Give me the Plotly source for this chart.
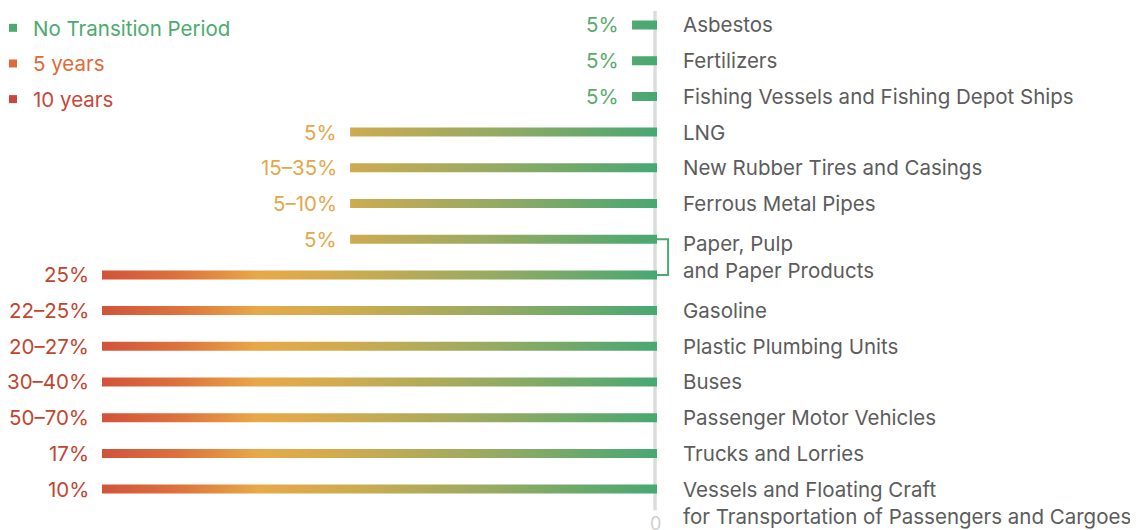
import plotly.graph_objects as go

# one entry per bar, top to bottom
products = [
    "Asbestos",
    "Fertilizers",
    "Fishing Vessels and Fishing Depot Ships",
    "LNG",
    "New Rubber Tires and Casings",
    "Ferrous Metal Pipes",
    "Paper, Pulp<br>and Paper Products",
    "Paper, Pulp<br>and Paper Products",
    "Gasoline",
    "Plastic Plumbing Units",
    "Buses",
    "Passenger Motor Vehicles",
    "Trucks and Lorries",
    "Vessels and Floating Craft<br>for Transportation of Passengers and Cargoes",
]
periods = [0, 0, 0, 1, 1, 1, 1, 2, 2, 2, 2, 2, 2, 2]
duty_labels = ["5%", "5%", "5%", "5%", "15–35%", "5–10%", "5%",
               "25%", "22–25%", "20–27%", "30–40%", "50–70%", "17%", "10%"]

period_names = ["No Transition Period", "5 years", "10 years"]
bar_extent = [0.45, 5.53, 10.0]  # drawn bar length for each period
legend_colors = ["#4caa6e", "#e0693a", "#c9473a"]
label_colors = ["#5aab6b", "#e3a84b", "#c2452f"]

gradient = [
    [0.0, "#d2533a"],
    [0.14, "#dd733d"],
    [0.28, "#e8a848"],
    [0.45, "#cdab50"],
    [0.70, "#98aa62"],
    [1.0, "#47a872"],
]

FONT = "Inter, Roboto, sans-serif"
FS = 20.5
half = 0.126

fig = go.Figure()

for k, name in enumerate(period_names):
    xs, ys = [], []
    for i, p in enumerate(periods):
        if p != k:
            continue
        e = bar_extent[k]
        xs += [-e, 0, 0, -e, -e, None]
        ys += [i - half, i - half, i + half, i + half, i - half, None]
    fig.add_trace(
        go.Scatter(
            x=xs,
            y=ys,
            mode="lines",
            fill="toself",
            line=dict(width=0),
            fillgradient=dict(type="horizontal", colorscale=gradient, start=-10, stop=0),
            showlegend=False,
            hoverinfo="skip",
        )
    )

# legend entries
for k, name in enumerate(period_names):
    fig.add_trace(
        go.Scatter(
            x=[None],
            y=[None],
            mode="markers",
            marker=dict(symbol="square", size=8, color=legend_colors[k]),
            name=f"<span style='color:{legend_colors[k]}'>{name}</span>",
            legendgroup=name,
        )
    )

# bracket joining the two paper bars
paper_rows = [i for i, p in enumerate(products) if p.startswith("Paper")]
fig.add_trace(
    go.Scatter(
        x=[0, 0.2, 0.2, 0],
        y=[paper_rows[0], paper_rows[0], paper_rows[1], paper_rows[1]],
        mode="lines",
        line=dict(color="#4caa6e", width=2),
        showlegend=False,
        hoverinfo="skip",
    )
)

annotations = []
for i, (lab, p) in enumerate(zip(duty_labels, periods)):
    annotations.append(dict(
        x=-bar_extent[p], y=i, text=lab, showarrow=False,
        xanchor="right", yanchor="middle", xshift=-11,
        font=dict(size=FS, color=label_colors[p], family=FONT),
    ))

done = set()
for i, prod in enumerate(products):
    if prod in done:
        continue
    done.add(prod)
    rows = [j for j, q in enumerate(products) if q == prod]
    a = dict(x=0, text=prod, showarrow=False, xanchor="left", xshift=24,
             align="left", font=dict(size=FS, color="#5c5c5c", family=FONT))
    if len(rows) > 1:
        a.update(y=sum(rows) / len(rows), yanchor="middle")
    elif "<br>" in prod:
        a.update(y=rows[0], yanchor="top", yshift=14)
    else:
        a.update(y=rows[0], yanchor="middle")
    annotations.append(a)

annotations.append(dict(
    x=0, y=13.62, text="0", showarrow=False, yanchor="top", xshift=-2,
    font=dict(size=18, color="#cfcfcf", family=FONT),
))

# page has an 8px body margin, so the figure is 1130x522 starting at (8, 8)
fig.update_layout(
    width=1130,
    height=522,
    margin=dict(l=0, r=0, t=0, b=0),
    plot_bgcolor="white",
    paper_bgcolor="white",
    xaxis=dict(range=[-11.694, 8.667], visible=False, fixedrange=True),
    yaxis=dict(range=[14.146, -0.476], visible=False, fixedrange=True),
    shapes=[dict(
        type="line", xref="x", yref="y", x0=-0.036, x1=-0.036, y0=-0.39, y1=13.59,
        line=dict(color="#dcdcdc", width=3.5), layer="below",
    )],
    annotations=annotations,
    legend=dict(
        x=0, y=1, xanchor="left", yanchor="top",
        font=dict(size=FS, family=FONT),
        tracegroupgap=6,
        indentation=-15,
        bgcolor="rgba(0,0,0,0)",
        itemwidth=30,
    ),
    showlegend=True,
)

fig.write_html("out.html")
